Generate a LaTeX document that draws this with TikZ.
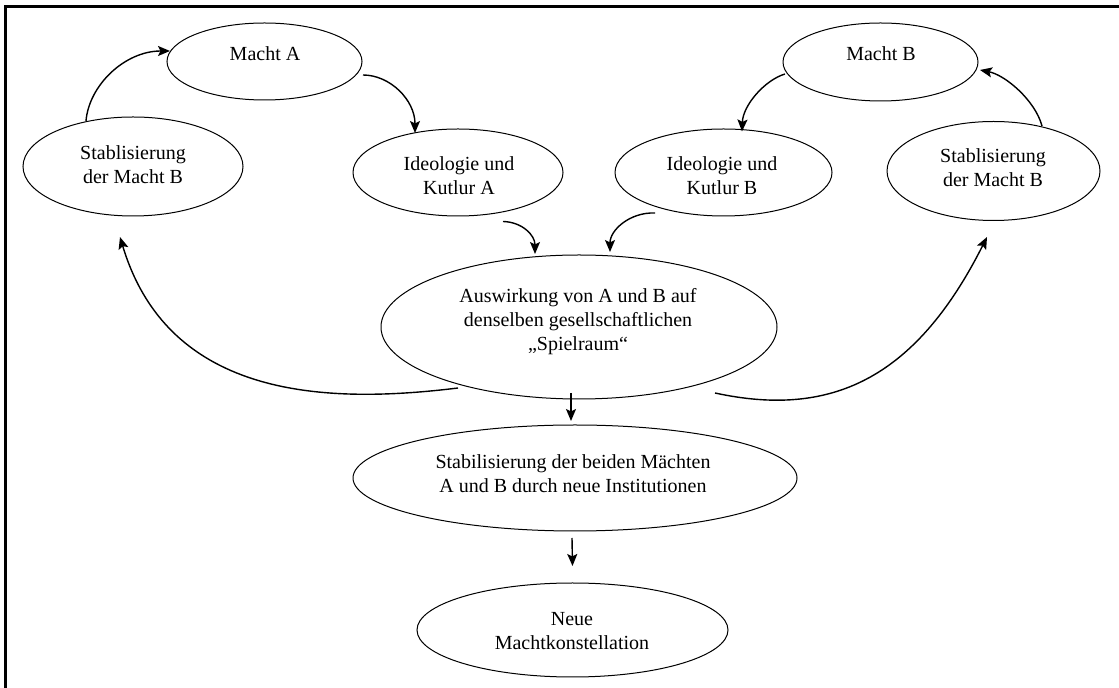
\documentclass[tikz,border=0pt]{standalone}
\usepackage{fontspec}
\setmainfont{Liberation Serif}
\usetikzlibrary{shapes.geometric,arrows.meta,calc}

\begin{document}
\begin{tikzpicture}[x=0.5pt,y=-0.5pt,
  bubble/.style={ellipse,draw=black,line width=0.5pt,inner sep=0pt},
  label/.style={align=center,inner sep=0pt,font=\fontsize{10}{12}\selectfont},
  arr/.style={line width=0.7pt,-{Stealth[length=6pt,width=5pt,inset=1.2pt]}},
  frame/.style={line width=1.3pt}]
\useasboundingbox (0,0) rectangle (1119,688);

% frame (top and left edges)
\coordinate (fTop) at (1119,6.5);
\coordinate (fCorner) at (5.5,6.5);
\coordinate (fBottom) at (5.5,688);
\draw[frame] (fTop) -- (fCorner) -- (fBottom);

% ellipses
\node[bubble,minimum width=97.5pt,minimum height=38.5pt] (machtA) at (264.5,61.5) {};
\node[bubble,minimum width=110pt,minimum height=49.5pt] (stabL) at (133,166.5) {};
\node[bubble,minimum width=105pt,minimum height=43.5pt] (ideoA) at (458,172.5) {};
\node[bubble,minimum width=97.5pt,minimum height=39pt] (machtB) at (880.5,62) {};
\node[bubble,minimum width=108.5pt,minimum height=43.5pt] (ideoB) at (723.5,172.5) {};
\node[bubble,minimum width=106.5pt,minimum height=49.5pt] (stabR) at (993.5,171) {};
\node[bubble,minimum width=198pt,minimum height=72pt] (ausw) at (579,327) {};
\node[bubble,minimum width=222pt,minimum height=53pt] (stab2) at (575,478) {};
\node[bubble,minimum width=155.5pt,minimum height=47pt] (neue) at (572.5,630) {};

% texts
\node[label] (tMachtA) at (265,54) {Macht A};
\node[label] (tStabL) at (133,165) {Stablisierung\\der Macht B};
\node[label] (tIdeoA) at (459,176) {Ideologie und\\Kutlur A};
\node[label] (tMachtB) at (881,54) {Macht B};
\node[label] (tIdeoB) at (722,176) {Ideologie und\\Kutlur B};
\node[label] (tStabR) at (993,168) {Stablisierung\\der Macht B};
\node[label] (tAusw) at (578,322) {Auswirkung von A und B auf\\denselben gesellschaftlichen\\„Spielraum“};
\node[label] (tStab2) at (573,474) {Stabilisierung der beiden Mächten\\A und B durch neue Institutionen};
\node[label] (tNeue) at (572,631) {Neue\\Machtkonstellation};

% upper cycles
\draw[arr] ($(stabL.center)+(-47,-45.5)$) .. controls (89,85) and (125,51) .. ($(machtA.center)+(-94.5,-10.5)$);
\draw[arr] ($(machtA.center)+(98.5,13.5)$) .. controls (390,75) and (415,100) .. ($(ideoA.center)+(-43,-39.5)$);
\draw[arr] ($(machtB.center)+(-95.5,12)$) .. controls (765,80) and (743,105) .. ($(ideoB.center)+(18.5,-41)$);
\draw[arr] ($(stabR.center)+(48.5,-45)$) .. controls (1035,100) and (1005,75) .. ($(machtB.center)+(99.5,8)$);

% into the shared field
\draw[arr] ($(ideoA.center)+(45,49)$) .. controls (522,222) and (535,235) .. ($(ausw.center)+(-44,-73)$);
\draw[arr] ($(ideoB.center)+(-68.5,40.5)$) .. controls (630,212) and (610,230) .. ($(ausw.center)+(31,-75)$);

% feedback to both stabilisations
\draw[arr] ($(ausw.center)+(-121,61)$) .. controls (328,404) and (169,400) .. ($(stabL.center)+(-13,70.5)$);
\draw[arr] ($(ausw.center)+(136,66)$) .. controls (830,418) and (915,380) .. ($(stabR.center)+(-6.5,66)$);

% downward chain
\draw[arr] ($(ausw.center)+(-8,66)$) -- ($(stab2.center)+(-4,-57)$);
\draw[arr] ($(stab2.center)+(-3,60)$) -- ($(neue.center)+(0,-64)$);
\end{tikzpicture}
\end{document}
